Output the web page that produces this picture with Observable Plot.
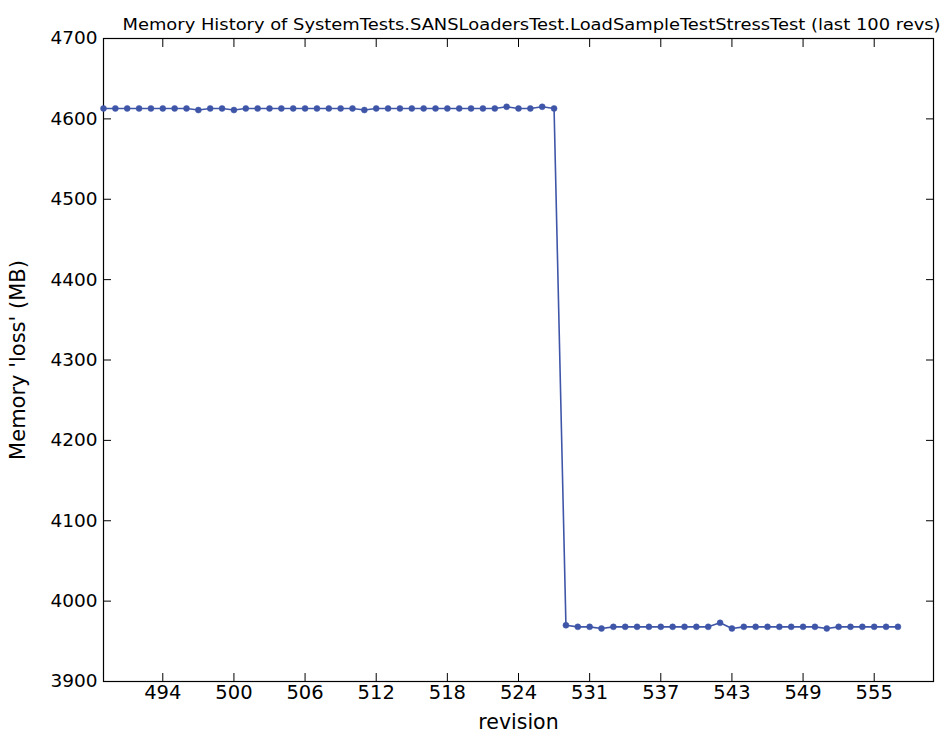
<!DOCTYPE html>
<html><head><meta charset="utf-8">
<script src="https://cdn.jsdelivr.net/npm/d3@7"></script>
<script src="https://cdn.jsdelivr.net/npm/@observablehq/plot@0.6"></script>
<style>body{margin:0;background:#fff;}</style>
</head><body><div id="chart"></div>
<script>
// revision labels for each plotted point (one revision skipped at the drop)
const revisions = [
  489,490,491,492,493,494,495,496,497,498,499,500,501,502,503,504,505,506,507,508,
  509,510,511,512,513,514,515,516,517,518,519,520,521,522,523,524,525,526,527,
  529,530,531,532,533,534,535,536,537,538,539,540,541,542,543,544,545,546,547,548,
  549,550,551,552,553,554,555,556,557
];
const memory = [
  4613,4613,4613,4613,4613,4613,4613,4613,4611,4613,4613,4611,4613,4613,4613,4613,4613,4613,4613,4613,
  4613,4613,4611,4613,4613,4613,4613,4613,4613,4613,4613,4613,4613,4613,4615,4613,4613,4615,4613,
  3970,3968,3968,3966,3968,3968,3968,3968,3968,3968,3968,3968,3968,3973,3966,3968,3968,3968,3968,3968,
  3968,3968,3966,3968,3968,3968,3968,3968,3968
];
const tickPositions = [5,11,17,23,29,35,41,47,53,59,65];
const tickLabels = ["494","500","506","512","518","524","531","537","543","549","555"];
const yTicks = [3900,4000,4100,4200,4300,4400,4500,4600,4700];
const title = "Memory History of SystemTests.SANSLoadersTest.LoadSampleTestStressTest (last 100 revs)";

const data = memory.map((m, i) => ({i, rev: revisions[i], mem: m}));
const color = "#3f56a8";

const chart = Plot.plot({
  width: 942, height: 733,
  marginLeft: 103, marginRight: 9, marginTop: 38, marginBottom: 52,
  style: {fontFamily: "DejaVu Sans", fontSize: "18px", background: "#fff", color: "#000"},
  x: {domain: [0, 70]},
  y: {domain: [3900, 4700]},
  marks: [
    Plot.axisX(tickPositions, {anchor: "bottom", tickSize: -8, tickPadding: 12, fontSize: 19.5,
      tickFormat: d => tickLabels[tickPositions.indexOf(d)], label: null}),
    Plot.axisX(tickPositions, {anchor: "top", tickSize: -8, tickFormat: () => "", label: null}),
    Plot.axisY(yTicks, {anchor: "left", tickSize: -8, tickPadding: 14, fontSize: 18.5, tickFormat: d => String(d), label: null}),
    Plot.axisY(yTicks, {anchor: "right", tickSize: -8, tickFormat: () => "", label: null}),
    Plot.frame({stroke: "#000", strokeWidth: 1.2}),
    Plot.line(data, {x: "i", y: "mem", stroke: color, strokeWidth: 1.6}),
    Plot.dot(data, {x: "i", y: "mem", r: 3, fill: color, stroke: color, strokeWidth: 0.5}),
    Plot.text([title], {frameAnchor: "top", dy: -20, dx: 13, text: d => d, fontSize: 16}),
    Plot.text(["revision"], {frameAnchor: "bottom", dy: 41, lineAnchor: "middle", text: d => d, fontSize: 20.5}),
    Plot.text(["Memory 'loss' (MB)"], {frameAnchor: "left", textAnchor: "middle", dx: -85, rotate: -90, text: d => d, fontSize: 21})
  ]
});
document.getElementById("chart").appendChild(chart);
// stretch title to the reference width
d3.select(chart).selectAll("text").filter(function() { return this.textContent === title; })
  .attr("textLength", 818).attr("lengthAdjust", "spacingAndGlyphs");
</script>
</body></html>
